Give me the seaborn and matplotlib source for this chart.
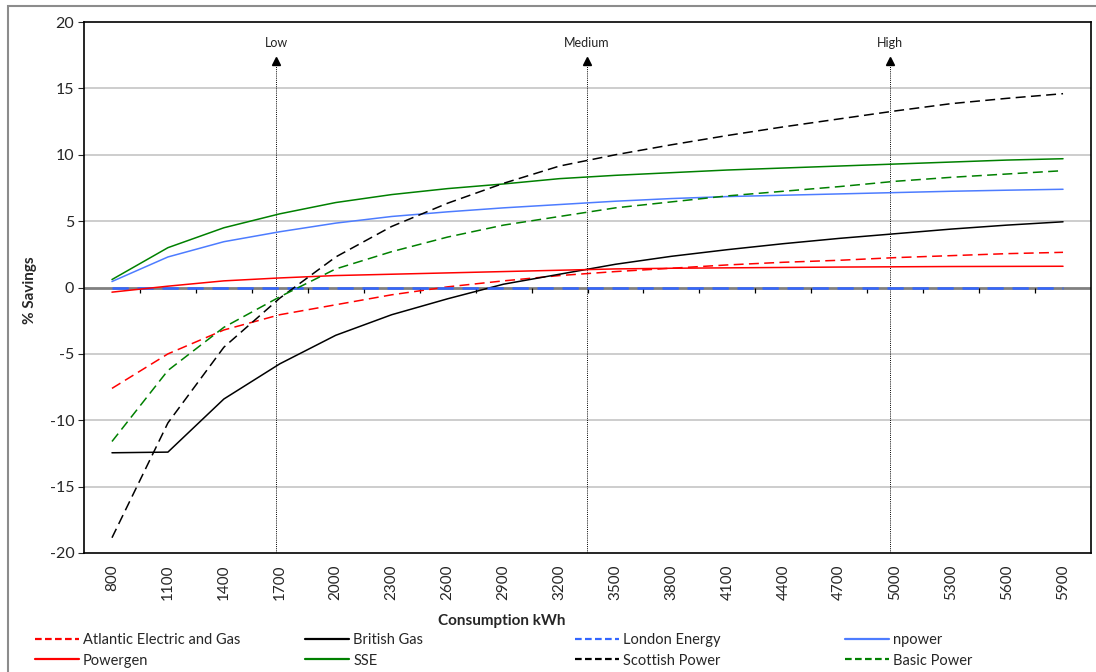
import numpy as np
import pandas as pd
import matplotlib
matplotlib.use("Agg")
import matplotlib.pyplot as plt
from matplotlib.patches import Rectangle
import seaborn as sns

# consumption bands (kWh) and % savings per supplier
kwh = [800, 1100, 1400, 1700, 2000, 2300, 2600, 2900, 3200,
       3500, 3800, 4100, 4400, 4700, 5000, 5300, 5600, 5900]

atlantic = [-7.6, -5.0, -3.2, -2.05, -1.3, -0.55, 0.05, 0.5, 0.9,
            1.2, 1.45, 1.7, 1.9, 2.05, 2.25, 2.4, 2.55, 2.65]
british_gas = [-12.45, -12.4, -8.4, -5.75, -3.6, -2.05, -0.85, 0.25, 1.0,
               1.75, 2.35, 2.85, 3.3, 3.7, 4.05, 4.4, 4.7, 4.95]
london_energy = [0, 0, 0, 0, 0, 0, 0, 0, 0,
                 0, 0, 0, 0, 0, 0, 0, 0, 0]
npower = [0.45, 2.3, 3.45, 4.2, 4.85, 5.35, 5.7, 6.0, 6.25,
          6.5, 6.7, 6.85, 6.95, 7.05, 7.15, 7.25, 7.33, 7.4]
powergen = [-0.35, 0.1, 0.5, 0.72, 0.9, 1.0, 1.1, 1.2, 1.3,
            1.4, 1.45, 1.48, 1.51, 1.54, 1.56, 1.58, 1.59, 1.6]
sse = [0.6, 3.0, 4.5, 5.55, 6.4, 7.0, 7.45, 7.8, 8.2,
       8.45, 8.65, 8.85, 9.0, 9.15, 9.3, 9.45, 9.6, 9.7]
scottish_power = [-18.85, -10.2, -4.5, -0.8, 2.3, 4.6, 6.35, 7.85, 9.15,
                  10.0, 10.75, 11.45, 12.1, 12.7, 13.3, 13.85, 14.25, 14.6]
basic_power = [-11.6, -6.25, -3.0, -0.7, 1.4, 2.7, 3.8, 4.7, 5.35,
               6.0, 6.45, 6.9, 7.25, 7.6, 8.0, 8.3, 8.55, 8.8]

# consumption markers
band_names = ["Low", "Medium", "High"]
band_kwh = [1680, 3345, 4970]

series = {
    "Atlantic Electric and Gas": atlantic,
    "British Gas": british_gas,
    "London Energy": london_energy,
    "npower": npower,
    "Powergen": powergen,
    "SSE": sse,
    "Scottish Power": scottish_power,
    "Basic Power": basic_power,
}
colors = {
    "Atlantic Electric and Gas": "#FF0000",
    "British Gas": "#000000",
    "London Energy": "#3366FF",
    "npower": "#4D7CFF",
    "Powergen": "#FF0000",
    "SSE": "#008000",
    "Scottish Power": "#000000",
    "Basic Power": "#008000",
}
dashed = {"Atlantic Electric and Gas", "London Energy", "Scottish Power", "Basic Power"}
dashes = {k: ((6.5, 3.5) if k in dashed else "") for k in series}

df = pd.DataFrame([
    {"supplier": name, "kwh": x, "saving": v}
    for name, vals in series.items() for x, v in zip(kwh, vals)
])

sns.set_style("white")
plt.rcParams["font.family"] = ["Lato", "DejaVu Sans"]
plt.rcParams["axes.unicode_minus"] = False

fig = plt.figure(figsize=(10.96, 6.72), dpi=100)
ax = fig.add_axes([84 / 1096, 1 - 553 / 672, (1091 - 84) / 1096, (553 - 22) / 672])

# grid and zero axis line
for g in [-15, -10, -5, 5, 10, 15]:
    ax.axhline(g, color="#c0c0c0", lw=1.1, zorder=0)
ax.axhline(0, color="#808080", lw=2.0, zorder=1)

step = kwh[1] - kwh[0]
bounds = [k + step / 2 for k in kwh[:-1]]
ax.vlines(bounds, -0.45, 0, color="black", lw=0.9, zorder=1)

sns.lineplot(data=df, x="kwh", y="saving", hue="supplier", style="supplier",
             palette=colors, dashes=dashes, linewidth=1.1, ax=ax,
             legend=False, zorder=3)
# London Energy sits on the zero line; draw it a bit heavier
for line in ax.get_lines():
    if np.allclose(line.get_ydata(), 0) and len(line.get_ydata()) == len(kwh):
        line.set_linewidth(1.8)

# Low / Medium / High markers
for name, xk in zip(band_names, band_kwh):
    ax.vlines(xk, -20, 16.9, color="black", lw=0.7, linestyles=(0, (1, 1.2)), zorder=2)
    ax.plot([xk], [17.05], marker="^", color="black", ms=6, zorder=4)
    ax.text(xk, 18.4, name, ha="center", va="center", fontsize=9, color="#222222")

ax.set_xlim(kwh[0] - step / 2, kwh[-1] + step / 2)
ax.set_ylim(-20, 20)
ax.set_yticks(range(-20, 21, 5))
ax.set_xticks(kwh)
ax.set_xticklabels([str(k) for k in kwh], rotation=90, fontsize=11)
ax.tick_params(axis="x", length=0, pad=8)
ax.tick_params(axis="y", length=4, width=0.8, direction="out", labelsize=11.5, pad=3, left=True)
for s in ax.spines.values():
    s.set_color("black")
    s.set_linewidth(1.2)
ax.set_xlabel("")
ax.set_ylabel("")

fig.text(502 / 1096, 1 - 621 / 672, "Consumption kWh", ha="center", va="center",
         fontsize=11, fontweight="bold")
fig.text(30 / 1096, 1 - 290 / 672, "% Savings", ha="center", va="center",
         rotation=90, fontsize=11, fontweight="bold")

# legend: four columns of two, evenly spaced like the original
order = list(series.keys())
cols = [[order[i], order[i + 4]] for i in range(4)]
col_x = [35, 305, 575, 845]
for xpos, names in zip(col_x, cols):
    handles = [plt.Line2D([], [], color=colors[n], lw=1.6,
                          linestyle=((0, (3, 1.5)) if n in dashed else "-")) for n in names]
    fig.legend(handles, names, loc="upper left",
               bbox_to_anchor=(xpos / 1096, 1 - 633 / 672),
               frameon=False, fontsize=10.5, handlelength=3.0, handletextpad=0.3,
               labelspacing=0.45, borderpad=0, borderaxespad=0)

# outer chart border
fig.patches.append(Rectangle((8 / 1096, -0.05), 1.2, 1.05 - 6 / 672,
                             transform=fig.transFigure, fill=False,
                             edgecolor="#8c8c8c", lw=1.5))

fig.savefig("out.png", dpi=100)
